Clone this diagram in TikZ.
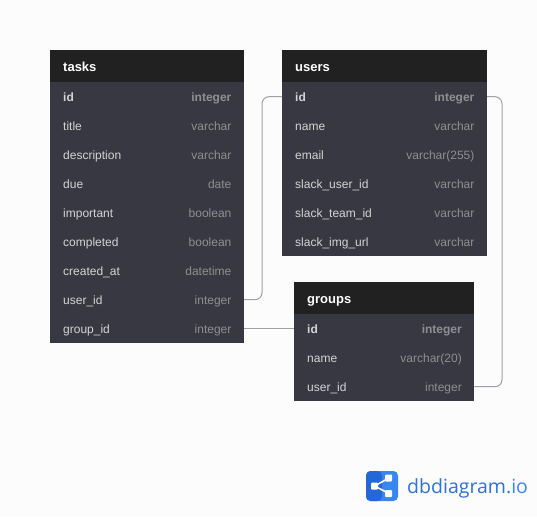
\documentclass[tikz,border=0pt]{standalone}
\usepackage{fontspec}
\setmainfont{Liberation Sans}
\newfontfamily\logofont{Open Sans}
\definecolor{bgc}{HTML}{FCFCFD}
\definecolor{headc}{HTML}{212121}
\definecolor{bodyc}{HTML}{373841}
\definecolor{namec}{HTML}{D4D4D6}
\definecolor{typec}{HTML}{8F8F93}
\definecolor{linkc}{HTML}{A0A0A6}
\definecolor{logoa}{HTML}{2468D8}
\definecolor{logob}{HTML}{3A86F0}
\definecolor{logot}{HTML}{2F72D6}
\tikzset{
  x=1pt,y=-1pt,
  headbox/.style={fill=headc,draw=none,inner sep=0pt,minimum height=32pt,anchor=north west},
  bodybox/.style={fill=bodyc,draw=none,inner sep=0pt,anchor=north west},
  rowbox/.style={draw=none,inner sep=0pt,minimum height=29pt,anchor=north west},
  headtext/.style={font=\fontsize{13}{15}\selectfont\bfseries,text=white,anchor=base west,inner sep=0pt},
  nametext/.style={font=\fontsize{12}{14}\selectfont,text=namec,anchor=base west,inner sep=0pt},
  typetext/.style={font=\fontsize{12}{14}\selectfont,text=typec,anchor=base east,inner sep=0pt},
  link/.style={draw=linkc,line width=1pt,rounded corners=7pt},
}
% \tbl{name}{x}{y}{width}{rows}{title}
\newcommand{\tbl}[6]{%
  \node[headbox,minimum width=#4pt] (#1) at (#2,#3) {};
  \node[headtext] (#1-t) at (#2+13,#3+21.2) {#6};
  \node[bodybox,minimum width=#4pt,minimum height=#5*29pt] (#1-b) at (#2,#3+32) {};
}
% \rw{table}{key}{x}{y}{width}{rowindex}{name}{type}
\newcommand{\rw}[8]{%
  \node[rowbox,minimum width=#5pt] (#1-#2) at (#3,#4+32+#6*29) {};
  \node[nametext] (#1-#2-n) at (#3+13,#4+32+#6*29+19.3) {#7};
  \node[typetext] (#1-#2-y) at (#3+#5-12,#4+32+#6*29+19.3) {#8};
}
\begin{document}
\begin{tikzpicture}
\fill[bgc] (0,0) rectangle (537,516);
\useasboundingbox (0,0) rectangle (537,516);
% tasks
\tbl{tasks}{50}{50}{193.6}{9}{tasks}
\rw{tasks}{id}{50}{50}{193.6}{0}{\bfseries id}{\bfseries integer}
\rw{tasks}{title}{50}{50}{193.6}{1}{title}{varchar}
\rw{tasks}{description}{50}{50}{193.6}{2}{description}{varchar}
\rw{tasks}{due}{50}{50}{193.6}{3}{due}{date}
\rw{tasks}{important}{50}{50}{193.6}{4}{important}{boolean}
\rw{tasks}{completed}{50}{50}{193.6}{5}{completed}{boolean}
\rw{tasks}{created}{50}{50}{193.6}{6}{created\_at}{datetime}
\rw{tasks}{user}{50}{50}{193.6}{7}{user\_id}{integer}
\rw{tasks}{group}{50}{50}{193.6}{8}{group\_id}{integer}
% users
\tbl{users}{282}{50}{204.6}{6}{users}
\rw{users}{id}{282}{50}{204.6}{0}{\bfseries id}{\bfseries integer}
\rw{users}{name}{282}{50}{204.6}{1}{name}{varchar}
\rw{users}{email}{282}{50}{204.6}{2}{email}{varchar(255)}
\rw{users}{su}{282}{50}{204.6}{3}{slack\_user\_id}{varchar}
\rw{users}{st}{282}{50}{204.6}{4}{slack\_team\_id}{varchar}
\rw{users}{si}{282}{50}{204.6}{5}{slack\_img\_url}{varchar}
% groups
\tbl{groups}{294}{282}{180}{3}{groups}
\rw{groups}{id}{294}{282}{180}{0}{\bfseries id}{\bfseries integer}
\rw{groups}{name}{294}{282}{180}{1}{name}{varchar(20)}
\rw{groups}{user}{294}{282}{180}{2}{user\_id}{integer}
% connectors
\coordinate (c1) at (262,0);
\coordinate (c2) at (502,0);
\draw[link] (tasks-user.east) -- (c1 |- tasks-user.east) -- (c1 |- users-id.west) -- (users-id.west);
\draw[link] (tasks-group.east) -- (groups-id.west);
\draw[link] (users-id.east) -- (c2 |- users-id.east) -- (c2 |- groups-user.east) -- (groups-user.east);
% logo
\fill[logob,rounded corners=4.5pt] (366,471) rectangle (398,501);
\fill[logoa,rounded corners=4.5pt] (366,471) -- (366,501) -- (382,501) -- (382,471) -- cycle;
\coordinate (l1) at (374.5,486);
\coordinate (l2) at (389,478);
\coordinate (l3) at (389,493.5);
\draw[white,line width=1.6pt] (l2) -- (l1) -- (l3);
\fill[white,rounded corners=1pt] (371,482.5) rectangle (378,489.5);
\fill[white,rounded corners=1pt] (385,474.5) rectangle (392,481.5);
\fill[white,rounded corners=1pt] (385,490) rectangle (392,497);
\node[font=\logofont\fontsize{19.5}{22}\selectfont,text=logot,anchor=base west,inner sep=0pt] (logotext) at (407,493.5) {dbdiagram.\textcolor{logob}{io}};
\end{tikzpicture}
\end{document}
